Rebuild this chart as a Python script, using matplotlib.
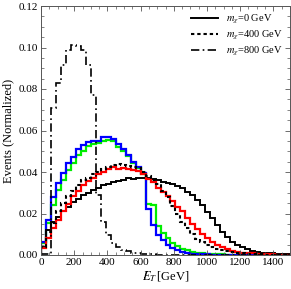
import numpy as np
import matplotlib
matplotlib.use("Agg")
import matplotlib.pyplot as plt
from matplotlib.ticker import MultipleLocator, FormatStrFormatter

# bin edges (GeV)
bin_edges = np.arange(0, 1501, 30)

# m_chi = 0 GeV (black solid)
m0 = [0.004, 0.012, 0.016, 0.0185, 0.021, 0.023, 0.0255, 0.027, 0.029, 0.030,
      0.0315, 0.0325, 0.0335, 0.034, 0.035, 0.0355, 0.036, 0.037, 0.0365, 0.037,
      0.037, 0.037, 0.0368, 0.0361, 0.0353, 0.0349, 0.0342, 0.0333, 0.0321, 0.0305,
      0.0289, 0.0265, 0.0241, 0.0209, 0.0177, 0.0145, 0.0112, 0.0088, 0.0064, 0.0048,
      0.0037, 0.0027, 0.0021, 0.0016, 0.0012, 0.0010, 0.0008, 0.0006, 0.0005, 0.0004]

# m_chi = 400 GeV (black dotted)
m400 = [0.004, 0.011, 0.0155, 0.021, 0.025, 0.0285, 0.031, 0.0335, 0.036, 0.037,
        0.039, 0.040, 0.0415, 0.0425, 0.0435, 0.0438, 0.0435, 0.043, 0.0425, 0.042,
        0.040, 0.038, 0.036, 0.034, 0.031, 0.028, 0.0235, 0.020, 0.016, 0.013,
        0.010, 0.0078, 0.0062, 0.0048, 0.0037, 0.0029, 0.0022, 0.0017, 0.0013, 0.0010,
        0.0008, 0.0006, 0.0005, 0.0004, 0.0003, 0.0002, 0.0002, 0.0001, 0.0001, 0.0001]

# m_chi = 800 GeV (black dash-dot)
m800 = [0.0005, 0.0005, 0.0707, 0.0827, 0.0916, 0.0988, 0.1012, 0.1005, 0.0988, 0.0916,
        0.0771, 0.029, 0.016, 0.0095, 0.006, 0.004, 0.0025, 0.0017, 0.0011, 0.0008,
        0.0005, 0.0004, 0.0003, 0.0002, 0.0002, 0.0001, 0.0001, 0.0, 0.0, 0.0,
        0.0, 0.0, 0.0, 0.0, 0.0, 0.0, 0.0, 0.0, 0.0, 0.0,
        0.0, 0.0, 0.0, 0.0, 0.0, 0.0, 0.0, 0.0, 0.0, 0.0]

# red
red = [0.0032, 0.008, 0.013, 0.017, 0.021, 0.0245, 0.0285, 0.031, 0.0335, 0.0355,
       0.037, 0.039, 0.040, 0.0415, 0.0425, 0.0415, 0.042, 0.0415, 0.041, 0.0405,
       0.039, 0.0365, 0.035, 0.0325, 0.0305, 0.0285, 0.026, 0.023, 0.021, 0.0178,
       0.015, 0.0125, 0.0100, 0.0082, 0.0065, 0.0050, 0.0038, 0.0028, 0.0021, 0.0016,
       0.0012, 0.0010, 0.0008, 0.0006, 0.0005, 0.0004, 0.0003, 0.0002, 0.0002, 0.0001]

# blue
blue = [0.0064, 0.0169, 0.0278, 0.0345, 0.0397, 0.0442, 0.0472, 0.0509, 0.053, 0.0545,
        0.0548, 0.0550, 0.0567, 0.057, 0.056, 0.0535, 0.051, 0.048, 0.045, 0.0425,
        0.0394, 0.0222, 0.0145, 0.0096, 0.0072, 0.0048, 0.0032, 0.0024, 0.0016, 0.0010,
        0.0007, 0.0005, 0.0004, 0.0003, 0.0002, 0.0001, 0.0001, 0.0001, 0.0, 0.0,
        0.0, 0.0, 0.0, 0.0, 0.0, 0.0, 0.0, 0.0, 0.0, 0.0]

# green
green = [0.0058, 0.0153, 0.0241, 0.0313, 0.0361, 0.041, 0.0445, 0.048, 0.050, 0.0525,
         0.0535, 0.0540, 0.0550, 0.0555, 0.055, 0.0522, 0.050, 0.0475, 0.0445, 0.042,
         0.0390, 0.0245, 0.0240, 0.0138, 0.0106, 0.0082, 0.0058, 0.0043, 0.0030, 0.0022,
         0.0016, 0.0012, 0.0009, 0.0007, 0.0005, 0.0004, 0.0003, 0.0002, 0.0002, 0.0001,
         0.0001, 0.0001, 0.0, 0.0, 0.0, 0.0, 0.0, 0.0, 0.0, 0.0]

legend_labels = [r"$m_{\chi}$=0 GeV", r"$m_{\chi}$=400 GeV", r"$m_{\chi}$=800 GeV"]
x_ticks = [0, 200, 400, 600, 800, 1000, 1200, 1400]
y_ticks = [0.00, 0.02, 0.04, 0.06, 0.08, 0.10, 0.12]

plt.rcParams['font.family'] = ['Liberation Serif', 'DejaVu Serif']
plt.rcParams['mathtext.fontset'] = 'stix'

fig = plt.figure(figsize=(2.91, 2.89), dpi=100)
ax = fig.add_axes([41/291, 1-255/289, 249/291, 249/289])

ax.stairs(green, bin_edges, color='#00ee00', lw=1.6, baseline=0)
ax.stairs(blue, bin_edges, color='#0000ff', lw=1.6, baseline=0)
ax.stairs(m0, bin_edges, color='black', lw=1.4, baseline=0, label=legend_labels[0])
ax.stairs(red, bin_edges, color='#ff0000', lw=1.6, baseline=0)
ax.stairs(m400, bin_edges, color='black', lw=1.5, linestyle=(0, (1.6, 1.4)), baseline=0,
          label=legend_labels[1])
ax.stairs(m800, bin_edges, color='black', lw=1.2, linestyle=(0, (5, 2, 1, 2)), baseline=0,
          label=legend_labels[2])

ax.set_xlim(0, 1500)
ax.set_ylim(0, 0.12)
ax.set_xticks(x_ticks)
ax.set_yticks(y_ticks)
ax.yaxis.set_major_formatter(FormatStrFormatter('%.2f'))
ax.xaxis.set_minor_locator(MultipleLocator(50))
ax.yaxis.set_minor_locator(MultipleLocator(0.005))
ax.tick_params(which='both', direction='in', top=True, right=True, color='#555555',
               labelsize=8, pad=2)
ax.tick_params(which='major', length=3.5, width=0.6)
ax.tick_params(which='minor', length=2, width=0.5)
for s in ax.spines.values():
    s.set_color('#555555')
    s.set_linewidth(0.7)

ax.set_xlabel(r"$/\!\!\!E_T\,$[GeV]", fontsize=9, labelpad=2)
ax.set_ylabel("Events (Normalized)", fontsize=9, labelpad=3)

ax.legend(loc='upper right', frameon=False, fontsize=7.5, handlelength=2.6,
          handletextpad=0.8, labelspacing=0.25, borderaxespad=0.3)

fig.savefig("out.png", dpi=100)
